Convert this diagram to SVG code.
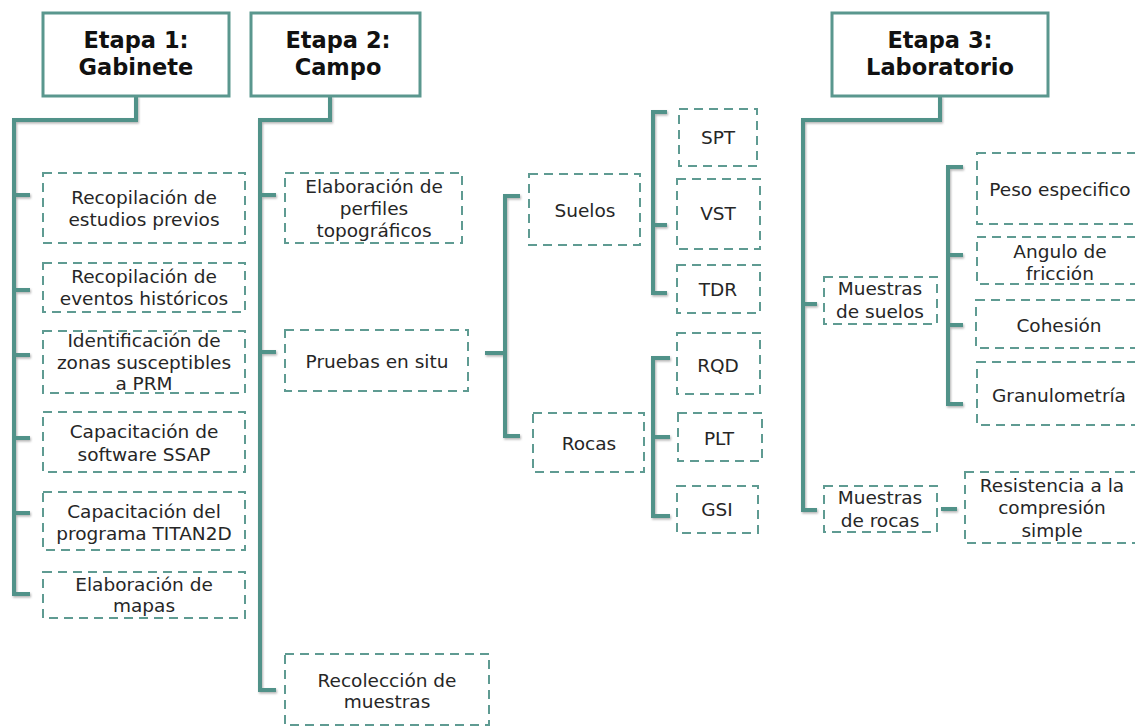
<svg xmlns="http://www.w3.org/2000/svg" width="1135" height="728" viewBox="0 0 1135 728">
<defs>
<style>
.hdr{fill:#fff;stroke:#5a978e;stroke-width:3}
.box{fill:#fff;stroke:#5f9b92;stroke-width:2;stroke-dasharray:9 6}
.ln{fill:none;stroke:#519289;stroke-width:4;stroke-linejoin:miter}
.t{font-family:"DejaVu Sans",Verdana,sans-serif;font-size:18.5px;fill:#262626;text-anchor:middle}
.h{font-family:"DejaVu Sans",Verdana,sans-serif;font-size:22.5px;font-weight:bold;fill:#111;text-anchor:middle}
</style>
<filter id="sh" x="-10%" y="-10%" width="120%" height="120%">
<feDropShadow dx="1" dy="1.5" stdDeviation="1" flood-color="#000" flood-opacity="0.3"/>
</filter>
</defs>
<rect width="1135" height="728" fill="#fff"/>
<g id="connectors" filter="url(#sh)">
<path class="ln" d="M136,96 V120 H14 V594 H30"/>
<path class="ln" d="M14,195 H30 M14,290 H30 M14,355 H30 M14,438 H30 M14,513 H30"/>
<path class="ln" d="M330,96 V120 H260 V690 H276"/>
<path class="ln" d="M260,195 H276 M260,352 H276"/>
<path class="ln" d="M485,353 H505 M520,196 H505 V436 H520"/>
<path class="ln" d="M667,112 H653 V293 H667 M653,225 H667"/>
<path class="ln" d="M670,358 H653 V516 H670 M653,437 H670"/>
<path class="ln" d="M940,96 V120 H803 V510 H817 M803,304 H817"/>
<path class="ln" d="M963,167 H948 V404 H963 M948,255 H963 M948,325 H963"/>
<path class="ln" d="M941,509 H957"/>
</g>
<g id="etapa1">
<rect class="hdr" x="43" y="13" width="186" height="83"/>
<text class="h" x="136" y="48">Etapa 1:</text>
<text class="h" x="136" y="75">Gabinete</text>
</g>
<g id="etapa2">
<rect class="hdr" x="251" y="13" width="169" height="83"/>
<text class="h" x="338" y="48">Etapa 2:</text>
<text class="h" x="338" y="75">Campo</text>
</g>
<g id="etapa3">
<rect class="hdr" x="832" y="13" width="216" height="83"/>
<text class="h" x="940" y="48">Etapa 3:</text>
<text class="h" x="940" y="75">Laboratorio</text>
</g>
<g id="e1-estudios">
<rect class="box" x="43" y="173" width="202" height="70"/>
<text class="t" x="144" y="204">Recopilación de</text>
<text class="t" x="144" y="226">estudios previos</text>
</g>
<g id="e1-eventos">
<rect class="box" x="43" y="263" width="202" height="49"/>
<text class="t" x="144" y="283">Recopilación de</text>
<text class="t" x="144" y="305">eventos históricos</text>
</g>
<g id="e1-zonas">
<rect class="box" x="43" y="331" width="202" height="62"/>
<text class="t" x="144" y="347">Identificación de</text>
<text class="t" x="144" y="369">zonas susceptibles</text>
<text class="t" x="144" y="390">a PRM</text>
</g>
<g id="e1-ssap">
<rect class="box" x="43" y="412" width="202" height="60"/>
<text class="t" x="144" y="438">Capacitación de</text>
<text class="t" x="144" y="461">software SSAP</text>
</g>
<g id="e1-titan">
<rect class="box" x="43" y="492" width="202" height="58"/>
<text class="t" x="144" y="518">Capacitación del</text>
<text class="t" x="144" y="540">programa TITAN2D</text>
</g>
<g id="e1-mapas">
<rect class="box" x="43" y="572" width="202" height="46"/>
<text class="t" x="144" y="591">Elaboración de</text>
<text class="t" x="144" y="612">mapas</text>
</g>
<g id="e2-perfiles">
<rect class="box" x="285" y="173" width="177" height="70"/>
<text class="t" x="374" y="193">Elaboración de</text>
<text class="t" x="374" y="215">perfiles</text>
<text class="t" x="374" y="237">topográficos</text>
</g>
<g id="e2-pruebas">
<rect class="box" x="285" y="330" width="183" height="61"/>
<text class="t" x="377" y="368">Pruebas en situ</text>
</g>
<g id="e2-recoleccion">
<rect class="box" x="285" y="654" width="204" height="71"/>
<text class="t" x="387" y="687">Recolección de</text>
<text class="t" x="387" y="708">muestras</text>
</g>
<g id="suelos">
<rect class="box" x="529" y="174" width="111" height="71"/>
<text class="t" x="585" y="217">Suelos</text>
</g>
<g id="rocas">
<rect class="box" x="533" y="413" width="111" height="59"/>
<text class="t" x="589" y="450">Rocas</text>
</g>
<g id="spt">
<rect class="box" x="679" y="109" width="78" height="57"/>
<text class="t" x="718" y="144">SPT</text>
</g>
<g id="vst">
<rect class="box" x="677" y="179" width="83" height="70"/>
<text class="t" x="718" y="220">VST</text>
</g>
<g id="tdr">
<rect class="box" x="677" y="265" width="83" height="48"/>
<text class="t" x="718" y="296">TDR</text>
</g>
<g id="rqd">
<rect class="box" x="677" y="333" width="83" height="61"/>
<text class="t" x="718" y="372">RQD</text>
</g>
<g id="plt">
<rect class="box" x="678" y="413" width="84" height="48"/>
<text class="t" x="719" y="445">PLT</text>
</g>
<g id="gsi">
<rect class="box" x="677" y="486" width="81" height="47"/>
<text class="t" x="717" y="516">GSI</text>
</g>
<g id="muestras-suelos">
<rect class="box" x="824" y="277" width="113" height="47"/>
<text class="t" x="880" y="295">Muestras</text>
<text class="t" x="880" y="318">de suelos</text>
</g>
<g id="muestras-rocas">
<rect class="box" x="824" y="486" width="113" height="46"/>
<text class="t" x="880" y="504">Muestras</text>
<text class="t" x="880" y="527">de rocas</text>
</g>
<g id="peso">
<rect class="box" x="977" y="153" width="170" height="71"/>
<text class="t" x="1060" y="196">Peso especifico</text>
</g>
<g id="angulo">
<rect class="box" x="977" y="237" width="170" height="47"/>
<text class="t" x="1060" y="258">Angulo de</text>
<text class="t" x="1060" y="280">fricción</text>
</g>
<g id="cohesion">
<rect class="box" x="976" y="300" width="170" height="48"/>
<text class="t" x="1059" y="332">Cohesión</text>
</g>
<g id="granulometria">
<rect class="box" x="977" y="362" width="170" height="63"/>
<text class="t" x="1059" y="402">Granulometría</text>
</g>
<g id="resistencia">
<rect class="box" x="965" y="472" width="180" height="71"/>
<text class="t" x="1052" y="492">Resistencia a la</text>
<text class="t" x="1052" y="514">compresión</text>
<text class="t" x="1052" y="537">simple</text>
</g>
</svg>
